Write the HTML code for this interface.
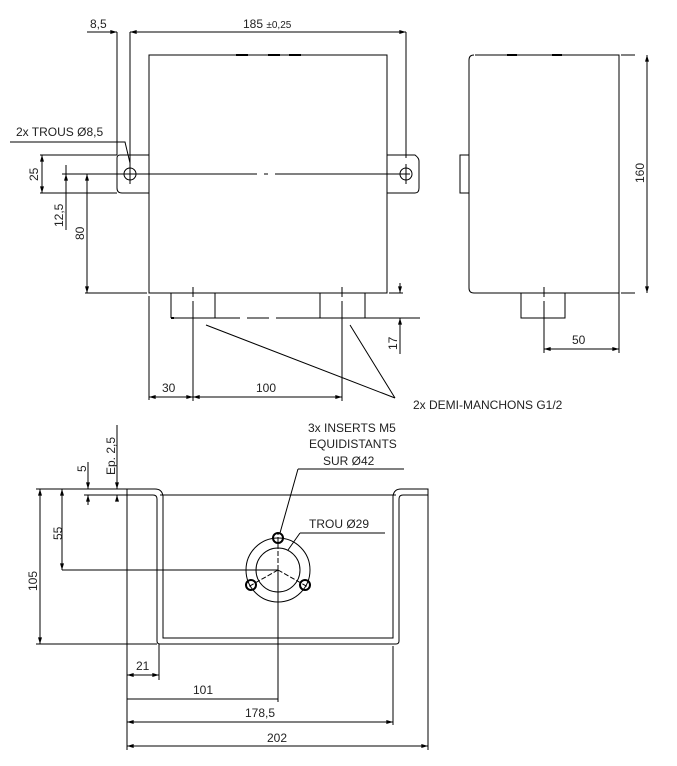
<!DOCTYPE html>
<html><head><style>body{margin:0;background:#fff}svg{display:block}text{font-family:"Liberation Sans",sans-serif;font-size:12px;fill:#222}</style></head><body>
<svg width="677" height="766" viewBox="0 0 677 766" xmlns="http://www.w3.org/2000/svg">
<defs><marker id="a" viewBox="0 0 10 6" refX="10" refY="3" markerWidth="8" markerHeight="4" orient="auto-start-reverse"><path d="M0,0L10,3L0,6z" fill="#000"/></marker></defs>
<g stroke="#000" stroke-width="1" fill="none">
<!-- front view -->
<rect x="149" y="55" width="238" height="238"/>
<path d="M236 55h12M268 55h12M289 55h12" stroke-width="2"/>
<path d="M149 155H120q-3 0-3 3v30q0 5 5 5h27"/>
<path d="M387 155h28q4 3 4 6v27q0 5-4 5h-28"/>
<circle cx="130" cy="174" r="6"/><circle cx="406" cy="174" r="6"/>
<path d="M130 164v20M406 164v20"/>
<path d="M62 174H257M264 174h4M275 174H410"/>
<path d="M87 32H117M130 32V172M117 32V155M406 32V158" />
<line x1="130" y1="32" x2="406" y2="32" marker-start="url(#a)" marker-end="url(#a)"/>
<line x1="100" y1="32" x2="117" y2="32" marker-end="url(#a)"/>
<path d="M10 142H125L130 163"/>
<path d="M40 155H117M40 193H117"/>
<line x1="42" y1="155" x2="42" y2="193" marker-start="url(#a)" marker-end="url(#a)"/>
<line x1="66" y1="230" x2="66" y2="174" marker-end="url(#a)"/>
<line x1="66" y1="165" x2="66" y2="174"/>
<line x1="87" y1="174" x2="87" y2="293" marker-start="url(#a)" marker-end="url(#a)"/>
<path d="M85 293H147M149 296V400"/>
<path d="M171 318V293M215 318V293M171 318H215M320 318V293M365 318V293M320 318H365" />
<path d="M171 318h3" stroke-width="2"/><path d="M215 318H240M247 318H269M276 318H420"/>
<path d="M193 287v10M193 301v100M342 287v10M342 301v100" />
<path d="M389 293h14"/>
<line x1="400" y1="283" x2="400" y2="293" marker-end="url(#a)"/>
<line x1="400" y1="354" x2="400" y2="318" marker-end="url(#a)"/>
<line x1="149" y1="397" x2="193" y2="397" marker-start="url(#a)" marker-end="url(#a)"/>
<line x1="193" y1="397" x2="342" y2="397" marker-start="url(#a)" marker-end="url(#a)"/>
<path d="M206 325L395 398M350 325L395 398"/>
<!-- side view -->
<path d="M475 55H619V293H474q-5 0-5-5V60q0-5 5-5"/>
<path d="M507 55h10M552 55h10" stroke-width="2"/>
<path d="M469 155h-9v38h9"/>
<path d="M521 293v25h44v-25"/>
<path d="M544 287v10M544 301v52M619 293v60M621 55h14M621 293h14M619 295v55"/>
<line x1="647" y1="55" x2="647" y2="293" marker-start="url(#a)" marker-end="url(#a)"/>
<line x1="544" y1="349" x2="619" y2="349" marker-start="url(#a)" marker-end="url(#a)"/>
<!-- bottom view -->
<path d="M127 489H155q7 0 8 7V638h230V496q1-7 8-7h27v6H403q-4 0-4 4v142q0 3-3 3H160q-3 0-3-3V499q0-4-4-4H127"/>
<path d="M160 495H396"/>
<circle cx="278" cy="570" r="32"/><circle cx="278" cy="570" r="22"/>
<circle cx="278" cy="538" r="5" stroke-width="2"/><circle cx="251" cy="585" r="5" stroke-width="2"/><circle cx="305" cy="585" r="5" stroke-width="2"/>
<path d="M278 570V533M278 570L248 587M278 570L308 587" stroke-dasharray="5 2"/>
<path d="M62 570H278"/>
<path d="M298 469H404M298 469L280 533"/>
<path d="M300 533H385M300 533L288 550"/>
<path d="M36 489H127M36 644H157M60 489H80"/>
<line x1="40" y1="489" x2="40" y2="644" marker-start="url(#a)" marker-end="url(#a)"/>
<line x1="62" y1="489" x2="62" y2="570" marker-start="url(#a)" marker-end="url(#a)"/>
<line x1="88" y1="462" x2="88" y2="489" marker-end="url(#a)"/>
<line x1="88" y1="505" x2="88" y2="495" marker-end="url(#a)"/>
<path d="M84 495H127"/>
<line x1="117" y1="425" x2="117" y2="489" marker-end="url(#a)"/>
<line x1="117" y1="500" x2="117" y2="495" marker-end="url(#a)"/>
<path d="M127 489V750M159 644V680M278 570V702M393 646V725M428 495V750"/>
<line x1="127" y1="675" x2="159" y2="675" marker-start="url(#a)" marker-end="url(#a)"/>
<line x1="127" y1="699" x2="278" y2="699"/>
<line x1="127" y1="722" x2="393" y2="722" marker-start="url(#a)" marker-end="url(#a)"/>
<line x1="127" y1="746" x2="428" y2="746" marker-start="url(#a)" marker-end="url(#a)"/>
</g>
<text x="90" y="28">8,5</text>
<text x="243" y="28">185 <tspan font-size="10">±0,25</tspan></text>
<text x="16" y="136">2x TROUS  Ø8,5</text>
<text transform="translate(38,181) rotate(-90)">25</text>
<text transform="translate(63,227) rotate(-90)">12,5</text>
<text transform="translate(84,240) rotate(-90)">80</text>
<text transform="translate(397,350) rotate(-90)">17</text>
<text x="162" y="392">30</text>
<text x="256" y="392">100</text>
<text x="413" y="409">2x DEMI-MANCHONS G1/2</text>
<text transform="translate(644,183) rotate(-90)">160</text>
<text x="572" y="344">50</text>
<text x="308" y="432">3x INSERTS M5</text>
<text x="309" y="448">EQUIDISTANTS</text>
<text x="323" y="465">SUR  Ø42</text>
<text x="309" y="528">TROU  Ø29</text>
<text transform="translate(37,591) rotate(-90)">105</text>
<text transform="translate(62,540) rotate(-90)">55</text>
<text transform="translate(86,472) rotate(-90)">5</text>
<text transform="translate(115,475) rotate(-90)">Ep. 2,5</text>
<text x="136" y="670">21</text>
<text x="193" y="694">101</text>
<text x="245" y="717">178,5</text>
<text x="267" y="742">202</text>
</svg>
</body></html>
